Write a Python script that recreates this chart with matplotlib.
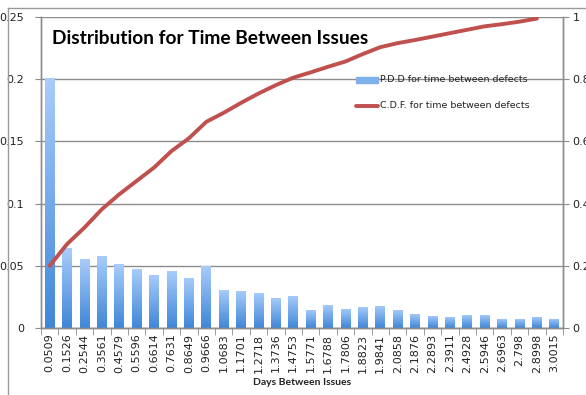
import matplotlib
matplotlib.use("Agg")
import matplotlib.pyplot as plt
import numpy as np
from matplotlib.lines import Line2D
from matplotlib.colors import LinearSegmentedColormap

# Bin midpoints (days between issues)
categories = ["0.0509", "0.1526", "0.2544", "0.3561", "0.4579", "0.5596", "0.6614",
              "0.7631", "0.8649", "0.9666", "1.0683", "1.1701", "1.2718", "1.3736",
              "1.4753", "1.5771", "1.6788", "1.7806", "1.8823", "1.9841", "2.0858",
              "2.1876", "2.2893", "2.3911", "2.4928", "2.5946", "2.6963", "2.798",
              "2.8998", "3.0015"]

# Probability per bin (left axis)
pdd = [0.201, 0.0642, 0.0556, 0.058, 0.0511, 0.0476, 0.0428, 0.046, 0.0404, 0.050,
       0.0307, 0.030, 0.0283, 0.0243, 0.0259, 0.0147, 0.0187, 0.0155, 0.0171, 0.0179,
       0.0147, 0.0115, 0.0099, 0.0091, 0.0107, 0.0107, 0.0075, 0.0075, 0.0091, 0.0075]

# Cumulative distribution (right axis), one value per bin up to 2.8998
cdf = [0.200, 0.270, 0.323, 0.382, 0.430, 0.473, 0.516, 0.569, 0.610, 0.663,
       0.692, 0.724, 0.754, 0.781, 0.805, 0.822, 0.840, 0.857, 0.881, 0.903,
       0.916, 0.926, 0.937, 0.948, 0.959, 0.970, 0.977, 0.985, 0.995]

W, H = 586, 395
fig = plt.figure(figsize=(W / 100, H / 100), dpi=100)
fig.patch.set_facecolor("white")

ax = fig.add_axes([41 / W, (H - 328) / H, (563 - 41) / W, (328 - 17) / H])
ax2 = ax.twinx()

grid_c = "#8c8c8c"
text_c = "#222222"
x = np.arange(len(categories))

# Bars with a vertical blue gradient
cmap = LinearSegmentedColormap.from_list("bluegrad", ["#3f86d8", "#a9cdfb"])
bars = ax.bar(x, pdd, width=0.57, color="none", edgecolor="none", zorder=2)
grad = np.linspace(0, 1, 256).reshape(-1, 1)
for b in bars:
    x0, y0 = b.get_x(), b.get_y()
    w, h = b.get_width(), b.get_height()
    im = ax.imshow(grad, extent=[x0, x0 + w, y0, y0 + h], origin="lower",
                   cmap=cmap, aspect="auto", zorder=2, interpolation="bicubic")
    im.set_clip_path(b)

ax.set_xlim(-0.5, len(categories) - 0.5)
ax.set_ylim(0, 0.25)
ax.set_yticks([0, 0.05, 0.1, 0.15, 0.2, 0.25])
ax.set_yticklabels(["0", "0.05", "0.1", "0.15", "0.2", "0.25"])
ax.set_xticks(x)
ax.set_xticklabels(categories, rotation=90, fontsize=8, color=text_c)
ax.set_xticks(np.arange(-0.5, len(categories), 1.0), minor=True)
ax.tick_params(axis="x", which="major", length=0, pad=4)
ax.tick_params(axis="x", which="minor", length=5, color=grid_c, direction="out")
ax.tick_params(axis="y", length=4, color=grid_c, labelsize=8, pad=8, labelcolor=text_c)
ax.yaxis.grid(True, color=grid_c, lw=1.0, zorder=0)
ax.set_axisbelow(True)

ax2.plot(x[:len(cdf)], cdf, color="#c0504d", lw=2.8, solid_capstyle="round", zorder=3)
ax2.set_ylim(0, 1.0)
ax2.set_yticks([0, 0.2, 0.4, 0.6, 0.8, 1.0])
ax2.set_yticklabels(["0", "0.2", "0.4", "0.6", "0.8", "1"])
ax2.tick_params(axis="y", length=4, color=grid_c, labelsize=8, pad=3, labelcolor=text_c)

for a in (ax, ax2):
    for s in a.spines.values():
        s.set_color(grid_c)
        s.set_linewidth(1.0)
ax.spines["top"].set_visible(False)
ax2.spines["top"].set_visible(False)

ax.set_xlabel("Days Between Issues", fontsize=7.5, fontweight="bold", family="Lato",
              labelpad=4, color=text_c)

# Title inside the plot area
fig.text(52 / W, 1 - 38 / H, "Distribution for Time Between Issues",
         fontsize=13.8, fontweight="bold", family="Lato", va="center", ha="left")

# Legend
fig.patches.append(plt.Rectangle((356 / W, 1 - 83 / H), 22 / W, 6 / H,
                                 transform=fig.transFigure, color="#7fb0ee", zorder=5))
fig.text(380 / W, 1 - 80 / H, "P.D.D for time between defects", fontsize=6.8,
         va="center", ha="left", color=text_c)
fig.lines.append(Line2D([356 / W, 378 / W], [1 - 106 / H, 1 - 106 / H],
                        transform=fig.transFigure, color="#c0504d", lw=2.8,
                        solid_capstyle="round"))
fig.text(380 / W, 1 - 106 / H, "C.D.F. for time between defects", fontsize=6.8,
         va="center", ha="left", color=text_c)

# Outer chart frame
frame_c = "#9a9a9a"
fig.lines.append(Line2D([7.5 / W, 7.5 / W], [0, 1 - 7.5 / H], transform=fig.transFigure,
                        color=frame_c, lw=1.0))
fig.lines.append(Line2D([7.5 / W, 1], [1 - 7.5 / H, 1 - 7.5 / H], transform=fig.transFigure,
                        color=frame_c, lw=1.0))

fig.savefig("out.png", dpi=100)
